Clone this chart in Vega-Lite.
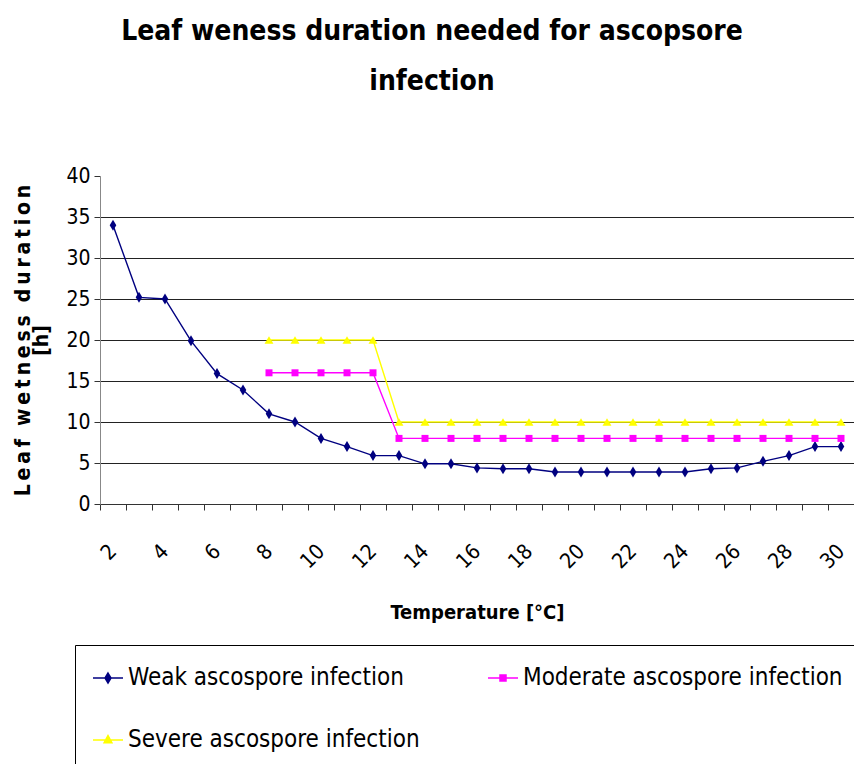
{
  "$schema": "https://vega.github.io/schema/vega-lite/v6.json",
  "width": 754,
  "height": 328,
  "autosize": "none",
  "padding": {"left": 100, "top": 176, "right": 0, "bottom": 260},
  "background": "white",
  "config": {
    "view": {"stroke": null},
    "font": "DejaVu Sans Condensed"
  },
  "title": {
    "text": ["Leaf weness duration needed for ascopsore", "infection"],
    "font": "DejaVu Sans Condensed",
    "fontSize": 28,
    "fontWeight": "bold",
    "color": "#000",
    "anchor": "middle",
    "dx": -45,
    "offset": 69,
    "lineHeight": 50
  },
  "data": {
    "values": [
      {"T": 2, "series": "Weak ascospore infection", "v": 34},
      {"T": 3, "series": "Weak ascospore infection", "v": 25.2},
      {"T": 4, "series": "Weak ascospore infection", "v": 25},
      {"T": 5, "series": "Weak ascospore infection", "v": 19.9},
      {"T": 6, "series": "Weak ascospore infection", "v": 15.9},
      {"T": 7, "series": "Weak ascospore infection", "v": 13.9},
      {"T": 8, "series": "Weak ascospore infection", "v": 11},
      {"T": 9, "series": "Weak ascospore infection", "v": 10},
      {"T": 10, "series": "Weak ascospore infection", "v": 8},
      {"T": 11, "series": "Weak ascospore infection", "v": 7},
      {"T": 12, "series": "Weak ascospore infection", "v": 5.9},
      {"T": 13, "series": "Weak ascospore infection", "v": 5.9},
      {"T": 14, "series": "Weak ascospore infection", "v": 4.9},
      {"T": 15, "series": "Weak ascospore infection", "v": 4.9},
      {"T": 16, "series": "Weak ascospore infection", "v": 4.4},
      {"T": 17, "series": "Weak ascospore infection", "v": 4.3},
      {"T": 18, "series": "Weak ascospore infection", "v": 4.3},
      {"T": 19, "series": "Weak ascospore infection", "v": 3.9},
      {"T": 20, "series": "Weak ascospore infection", "v": 3.9},
      {"T": 21, "series": "Weak ascospore infection", "v": 3.9},
      {"T": 22, "series": "Weak ascospore infection", "v": 3.9},
      {"T": 23, "series": "Weak ascospore infection", "v": 3.9},
      {"T": 24, "series": "Weak ascospore infection", "v": 3.9},
      {"T": 25, "series": "Weak ascospore infection", "v": 4.3},
      {"T": 26, "series": "Weak ascospore infection", "v": 4.4},
      {"T": 27, "series": "Weak ascospore infection", "v": 5.2},
      {"T": 28, "series": "Weak ascospore infection", "v": 5.9},
      {"T": 29, "series": "Weak ascospore infection", "v": 7},
      {"T": 30, "series": "Weak ascospore infection", "v": 7},
      {"T": 8, "series": "Moderate ascospore infection", "v": 16},
      {"T": 9, "series": "Moderate ascospore infection", "v": 16},
      {"T": 10, "series": "Moderate ascospore infection", "v": 16},
      {"T": 11, "series": "Moderate ascospore infection", "v": 16},
      {"T": 12, "series": "Moderate ascospore infection", "v": 16},
      {"T": 13, "series": "Moderate ascospore infection", "v": 8},
      {"T": 14, "series": "Moderate ascospore infection", "v": 8},
      {"T": 15, "series": "Moderate ascospore infection", "v": 8},
      {"T": 16, "series": "Moderate ascospore infection", "v": 8},
      {"T": 17, "series": "Moderate ascospore infection", "v": 8},
      {"T": 18, "series": "Moderate ascospore infection", "v": 8},
      {"T": 19, "series": "Moderate ascospore infection", "v": 8},
      {"T": 20, "series": "Moderate ascospore infection", "v": 8},
      {"T": 21, "series": "Moderate ascospore infection", "v": 8},
      {"T": 22, "series": "Moderate ascospore infection", "v": 8},
      {"T": 23, "series": "Moderate ascospore infection", "v": 8},
      {"T": 24, "series": "Moderate ascospore infection", "v": 8},
      {"T": 25, "series": "Moderate ascospore infection", "v": 8},
      {"T": 26, "series": "Moderate ascospore infection", "v": 8},
      {"T": 27, "series": "Moderate ascospore infection", "v": 8},
      {"T": 28, "series": "Moderate ascospore infection", "v": 8},
      {"T": 29, "series": "Moderate ascospore infection", "v": 8},
      {"T": 30, "series": "Moderate ascospore infection", "v": 8},
      {"T": 8, "series": "Severe ascospore infection", "v": 20},
      {"T": 9, "series": "Severe ascospore infection", "v": 20},
      {"T": 10, "series": "Severe ascospore infection", "v": 20},
      {"T": 11, "series": "Severe ascospore infection", "v": 20},
      {"T": 12, "series": "Severe ascospore infection", "v": 20},
      {"T": 13, "series": "Severe ascospore infection", "v": 10},
      {"T": 14, "series": "Severe ascospore infection", "v": 10},
      {"T": 15, "series": "Severe ascospore infection", "v": 10},
      {"T": 16, "series": "Severe ascospore infection", "v": 10},
      {"T": 17, "series": "Severe ascospore infection", "v": 10},
      {"T": 18, "series": "Severe ascospore infection", "v": 10},
      {"T": 19, "series": "Severe ascospore infection", "v": 10},
      {"T": 20, "series": "Severe ascospore infection", "v": 10},
      {"T": 21, "series": "Severe ascospore infection", "v": 10},
      {"T": 22, "series": "Severe ascospore infection", "v": 10},
      {"T": 23, "series": "Severe ascospore infection", "v": 10},
      {"T": 24, "series": "Severe ascospore infection", "v": 10},
      {"T": 25, "series": "Severe ascospore infection", "v": 10},
      {"T": 26, "series": "Severe ascospore infection", "v": 10},
      {"T": 27, "series": "Severe ascospore infection", "v": 10},
      {"T": 28, "series": "Severe ascospore infection", "v": 10},
      {"T": 29, "series": "Severe ascospore infection", "v": 10},
      {"T": 30, "series": "Severe ascospore infection", "v": 10}
    ]
  },
  "encoding": {
    "x": {
      "field": "T",
      "type": "quantitative",
      "scale": {"domain": [1.5, 30.5], "nice": false, "zero": false},
      "axis": {
        "title": "Temperature [°C]",
        "titleFont": "DejaVu Sans Condensed",
        "titleFontSize": 20,
        "titleFontWeight": "bold",
        "titleColor": "#000",
        "titlePadding": 30,
        "values": [1.5, 2.5, 3.5, 4.5, 5.5, 6.5, 7.5, 8.5, 9.5, 10.5, 11.5, 12.5, 13.5, 14.5, 15.5, 16.5, 17.5, 18.5, 19.5, 20.5, 21.5, 22.5, 23.5, 24.5, 25.5, 26.5, 27.5, 28.5, 29.5, 30.5],
        "labelExpr": "(datum.value + 0.5) % 2 == 0 && datum.value < 30 ? format(datum.value + 0.5, 'd') : ''",
        "labelOffset": 13,
        "labelAngle": -45,
        "labelAlign": "right",
        "labelBaseline": "middle",
        "labelPadding": 38,
        "labelFont": "DejaVu Sans Condensed",
        "labelFontSize": 21,
        "labelColor": "#000",
        "labelOverlap": false,
        "labelFlush": false,
        "labelBound": false,
        "grid": false,
        "tickSize": 6,
        "tickColor": "#333",
        "domainColor": "#333"
      }
    },
    "y": {
      "field": "v",
      "type": "quantitative",
      "scale": {"domain": [0, 40], "nice": false},
      "axis": {
        "title": ["L\u2009e\u2009a\u2009f\u00a0\u00a0w\u2009e\u2009t\u2009n\u2009e\u2009s\u2009s\u00a0\u00a0d\u2009u\u2009r\u2009a\u2009t\u2009i\u2009o\u2009n", "[h]"],
        "titleFont": "DejaVu Sans Condensed",
        "titleFontSize": 21,
        "titleFontWeight": "bold",
        "titleColor": "#000",
        "titleLineHeight": 18,
        "titlePadding": 14,
        "values": [0, 5, 10, 15, 20, 25, 30, 35, 40],
        "labelFont": "DejaVu Sans Condensed",
        "labelFontSize": 21,
        "labelColor": "#000",
        "labelPadding": 4,
        "grid": true,
        "gridColor": {"condition": {"test": "datum.value == 40 || datum.value == 0", "value": "transparent"}, "value": "#222"},
        "gridWidth": 1,
        "tickSize": 6,
        "tickColor": "#333",
        "domainColor": "#888"
      }
    },
    "color": {
      "field": "series",
      "type": "nominal",
      "scale": {
        "domain": ["Weak ascospore infection", "Moderate ascospore infection", "Severe ascospore infection"],
        "range": ["#000080", "#FF00FF", "#FFFF00"]
      },
      "legend": {
        "orient": "none",
        "legendX": -25,
        "legendY": 469,
        "title": null,
        "columns": 2,
        "direction": "horizontal",
        "columnPadding": 65,
        "rowPadding": 34,
        "padding": 17,
        "strokeColor": "#000",
        "labelFont": "DejaVu Sans Condensed",
        "labelFontSize": 24,
        "labelColor": "#000",
        "labelLimit": 0,
        "labelOffset": 4,
        "symbolSize": 900,
        "symbolStrokeWidth": 1.5,
        "encode": {
          "symbols": {
            "enter": {
              "shape": {"signal": "datum.value == 'Weak ascospore infection' ? 'M-1,0H1M0,-0.33L0.2,0L0,0.33L-0.2,0Z' : datum.value == 'Moderate ascospore infection' ? 'M-1,0H1M-0.2,-0.2H0.2V0.2H-0.2Z' : 'M-1,0H1M0,-0.3L0.26,0.18H-0.26Z'"}
            },
            "update": {
              "shape": {"signal": "datum.value == 'Weak ascospore infection' ? 'M-1,0H1M0,-0.33L0.2,0L0,0.33L-0.2,0Z' : datum.value == 'Moderate ascospore infection' ? 'M-1,0H1M-0.2,-0.2H0.2V0.2H-0.2Z' : 'M-1,0H1M0,-0.3L0.26,0.18H-0.26Z'"},
              "fill": {"scale": "color", "field": "value"},
              "stroke": {"scale": "color", "field": "value"},
              "strokeWidth": {"value": 1.5},
              "size": {"value": 900},
              "opacity": {"value": 1}
            }
          }
        }
      }
    }
  },
  "layer": [
    {
      "mark": {"type": "line", "strokeWidth": 1.4},
      "encoding": {"detail": {"field": "series"}}
    },
    {
      "transform": [{"filter": "datum.series == 'Weak ascospore infection'"}],
      "mark": {"type": "point", "filled": true, "opacity": 1, "shape": "M0,-1L0.6,0L0,1L-0.6,0Z", "size": 121}
    },
    {
      "transform": [{"filter": "datum.series == 'Moderate ascospore infection'"}],
      "mark": {"type": "point", "filled": true, "opacity": 1, "shape": "square", "size": 49}
    },
    {
      "transform": [{"filter": "datum.series == 'Severe ascospore infection'"}],
      "mark": {"type": "point", "filled": true, "opacity": 1, "shape": "triangle-up", "size": 80}
    }
  ]
}
